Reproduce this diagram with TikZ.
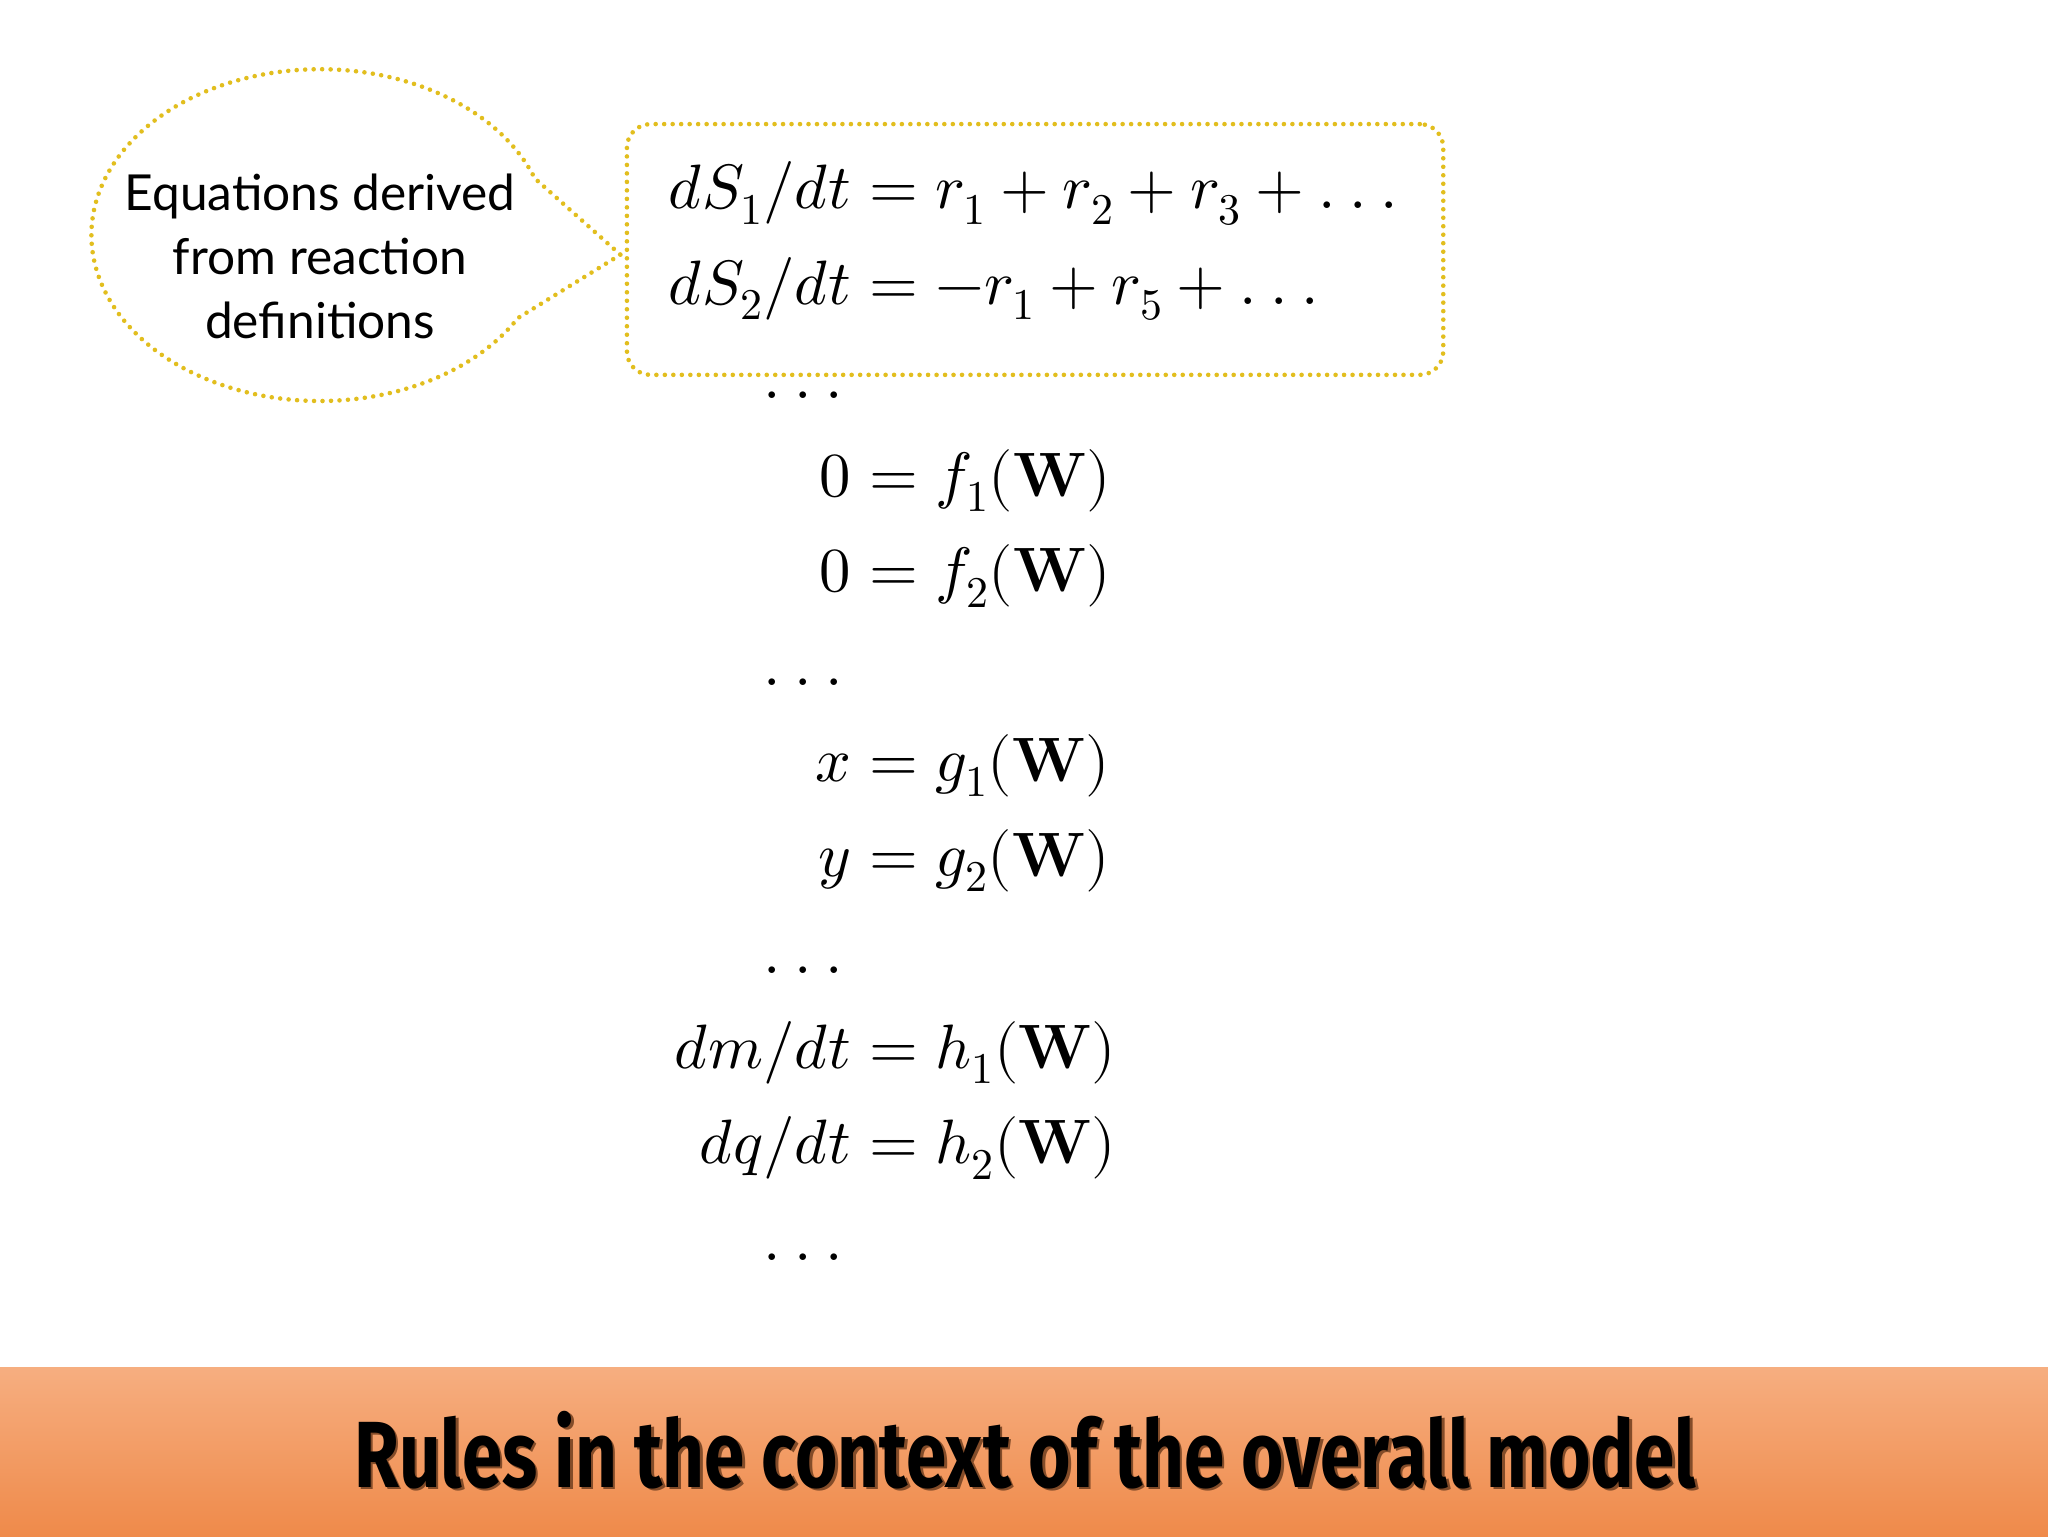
\documentclass[tikz,border=0pt]{standalone}
\usepackage{fontspec}
\usepackage{unicode-math}
\setmathfont{Latin Modern Math}
\usetikzlibrary{calc}
\newfontfamily\calloutfont{Lato}
\newfontfamily\titlefont{Fira Sans}
\newcommand{\mydots}{{.\mkern4mu.\mkern4mu.}}
\definecolor{dotyel}{HTML}{E2BE1E}
\definecolor{bantop}{HTML}{F6AE80}
\definecolor{banbot}{HTML}{EF8A4A}
\tikzset{
  dotline/.style={draw=dotyel,line width=3.5pt,line cap=round,dash pattern=on 0pt off 6.5pt},
  lhs/.style={anchor=base east,inner sep=0pt,font=\fontsize{48}{52}\selectfont},
  rhs/.style={anchor=base west,inner sep=0pt,font=\fontsize{48}{52}\selectfont},
  dotsn/.style={anchor=base,inner sep=0pt,font=\fontsize{48}{52}\selectfont}
}
\begin{document}
\begin{tikzpicture}[x=1pt,y=-1pt]
\useasboundingbox (0,0) rectangle (1568,1176);
\fill[white] (0,0) rectangle (1568,1176);
\shade[top color=bantop,bottom color=banbot] (0,1047) rectangle (1568,1176);
\node[inner sep=0pt,text=black!45!banbot] at (787,1112) {\scalebox{0.774}[1]{\titlefont\bfseries\fontsize{72}{74}\selectfont Rules in the context of the overall model}};
\node[inner sep=0pt] (title) at (785,1110) {\scalebox{0.774}[1]{\titlefont\bfseries\fontsize{72}{74}\selectfont Rules in the context of the overall model}};
% box
\node[dotline,rounded corners=18pt,minimum width=625pt,minimum height=192pt] (box) at (792.5,191) {};
% callout
\draw[dotline] (475,195) coordinate (tip) -- ($(245,180)+(30:175 and 127)$)
  arc[start angle=30,end angle=340,x radius=175,y radius=127] -- (tip);
\node[align=center,font=\calloutfont\fontsize{38}{49}\selectfont] (call) at (245,196) {Equations derived\\from reaction\\definitions};
% equations
\def\ex{652}
\node[lhs] (l1) at (\ex,160) {$dS_1/dt$};
\node[rhs] (r1) at (\ex,160) {${}= r_1 + r_2 + r_3 + \mydots$};
\node[lhs] (l2) at (\ex,233) {$dS_2/dt$};
\node[rhs] (r2) at (\ex,233) {${}= -r_1 + r_5 + \mydots$};
\node[dotsn] (d1) at (615,305) {$\mydots$};
\node[lhs] (l3) at (\ex,380) {$0$};
\node[rhs] (r3) at (\ex,380) {${}= f_1(\mathbf{W})$};
\node[lhs] (l4) at (\ex,453) {$0$};
\node[rhs] (r4) at (\ex,453) {${}= f_2(\mathbf{W})$};
\node[dotsn] (d2) at (615,525) {$\mydots$};
\node[lhs] (l5) at (\ex,598) {$x$};
\node[rhs] (r5) at (\ex,598) {${}= g_1(\mathbf{W})$};
\node[lhs] (l6) at (\ex,671) {$y$};
\node[rhs] (r6) at (\ex,671) {${}= g_2(\mathbf{W})$};
\node[dotsn] (d3) at (615,745) {$\mydots$};
\node[lhs] (l7) at (\ex,818) {$dm/dt$};
\node[rhs] (r7) at (\ex,818) {${}= h_1(\mathbf{W})$};
\node[lhs] (l8) at (\ex,891) {$dq/dt$};
\node[rhs] (r8) at (\ex,891) {${}= h_2(\mathbf{W})$};
\node[dotsn] (d4) at (615,965) {$\mydots$};
\end{tikzpicture}
\end{document}
